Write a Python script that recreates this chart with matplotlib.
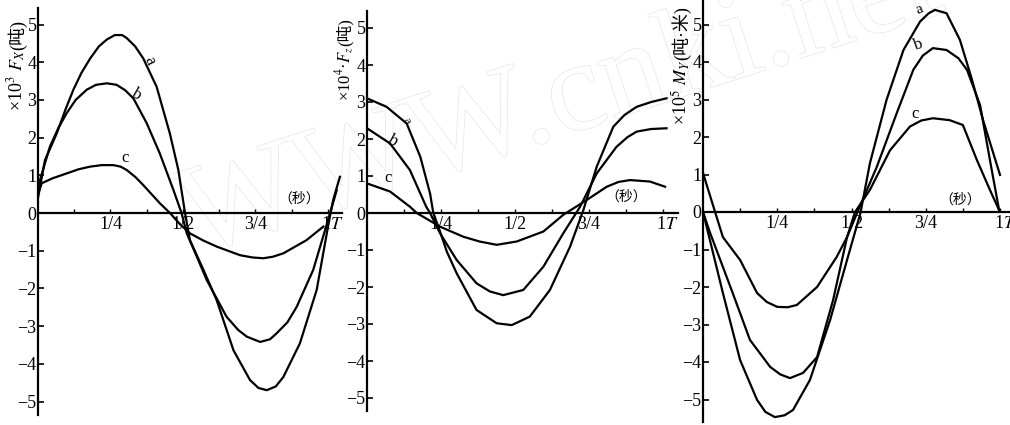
import matplotlib
matplotlib.use("Agg")
import matplotlib.pyplot as plt
import matplotlib.patheffects as pe
from matplotlib.transforms import ScaledTranslation

plt.rcParams['font.family'] = ['Liberation Serif', 'Noto Sans CJK SC']
plt.rcParams['mathtext.fontset'] = 'stix'
plt.rcParams['axes.unicode_minus'] = True

# x tick labels (fraction of period T)
tick_pos = [0.25, 0.5, 0.75, 1.0]
tick_lab = ['1/4', '1/2', '3/4', '1$T$']
minor_pos = [0.125, 0.375, 0.625, 0.875]
y_ticks = [-5, -4, -3, -2, -1, 0, 1, 2, 3, 4, 5]

# panel 1: Fx (x10^3 t)
fx_a_t = [0.0, 0.024, 0.064, 0.095, 0.122, 0.15, 0.18, 0.21, 0.237, 0.265, 0.29, 0.306, 0.335, 0.363,
          0.409, 0.455, 0.484, 0.507, 0.524, 0.57, 0.616, 0.674, 0.731, 0.76, 0.789, 0.82, 0.846,
          0.903, 0.961, 1.0, 1.018, 1.041]
fx_a = [0.4, 1.4, 2.1, 2.75, 3.27, 3.72, 4.1, 4.42, 4.6, 4.72, 4.72, 4.64, 4.42, 4.1,
        3.35, 2.1, 1.14, 0.0, -0.72, -1.5, -2.31, -3.64, -4.43, -4.64, -4.7, -4.6, -4.35,
        -3.46, -2.04, -0.36, 0.35, 0.96]
fx_b_t = [0.0, 0.041, 0.07, 0.099, 0.13, 0.168, 0.2, 0.237, 0.271, 0.3, 0.329, 0.375, 0.42,
          0.467, 0.495, 0.513, 0.55, 0.582, 0.65, 0.69, 0.72, 0.766, 0.8, 0.823, 0.86, 0.892,
          0.949, 0.99, 1.007, 1.03]
fx_b = [0.7, 1.76, 2.25, 2.65, 3.0, 3.27, 3.4, 3.44, 3.4, 3.26, 3.04, 2.38, 1.58,
        0.61, 0.0, -0.54, -1.2, -1.78, -2.75, -3.1, -3.28, -3.42, -3.35, -3.19, -2.9, -2.49,
        -1.51, -0.45, 0.0, 0.6]
fx_c_t = [0.0, 0.013, 0.05, 0.099, 0.14, 0.18, 0.22, 0.26, 0.285, 0.306, 0.335, 0.363, 0.42,
          0.455, 0.49, 0.524, 0.57, 0.616, 0.697, 0.74, 0.777, 0.81, 0.846, 0.926, 0.984]
fx_c = [0.5, 0.79, 0.92, 1.05, 1.16, 1.23, 1.27, 1.27, 1.23, 1.14, 0.96, 0.74, 0.26,
        0.0, -0.3, -0.54, -0.73, -0.89, -1.12, -1.18, -1.2, -1.16, -1.07, -0.72, -0.36]

# panel 2: Fz (x10^4 t)
fz_a_t = [0.0, 0.066, 0.134, 0.18, 0.213, 0.224, 0.241, 0.27, 0.303, 0.37, 0.438, 0.489, 0.55,
          0.618, 0.686, 0.731, 0.776, 0.832, 0.87, 0.911, 0.96, 1.012]
fz_a = [3.1, 2.87, 2.42, 1.52, 0.53, 0.0, -0.37, -1.05, -1.63, -2.62, -2.98, -3.03, -2.8,
        -2.08, -0.91, 0.08, 1.25, 2.33, 2.65, 2.87, 3.0, 3.1]
fz_b_t = [0.0, 0.078, 0.145, 0.2, 0.213, 0.247, 0.303, 0.37, 0.415, 0.46, 0.528, 0.596, 0.663,
          0.72, 0.776, 0.843, 0.88, 0.911, 0.96, 1.012]
fz_b = [2.29, 1.88, 1.16, 0.17, 0.0, -0.55, -1.27, -1.9, -2.12, -2.22, -2.08, -1.45, -0.55,
        0.17, 1.07, 1.79, 2.05, 2.2, 2.27, 2.29]
fz_c_t = [0.0, 0.078, 0.145, 0.168, 0.247, 0.325, 0.38, 0.438, 0.506, 0.596, 0.663, 0.742,
          0.81, 0.85, 0.889, 0.956, 1.007]
fz_c = [0.8, 0.58, 0.17, 0.0, -0.37, -0.64, -0.77, -0.86, -0.77, -0.5, -0.05, 0.35,
        0.71, 0.84, 0.89, 0.85, 0.71]

# panel 3: My (x10^5 t*m)
my_a_t = [0.0, 0.067, 0.125, 0.182, 0.21, 0.242, 0.275, 0.303, 0.36, 0.428, 0.485, 0.53, 0.562,
          0.618, 0.675, 0.731, 0.76, 0.781, 0.82, 0.865, 0.906, 0.943, 1.0]
my_a = [0.0, -2.16, -3.95, -5.01, -5.33, -5.47, -5.42, -5.28, -4.48, -2.88, -1.28, -0.03, 1.3,
        2.99, 4.32, 5.08, 5.3, 5.39, 5.3, 4.59, 3.52, 2.45, 0.99]
my_b_t = [0.0, 0.024, 0.1, 0.158, 0.226, 0.26, 0.293, 0.337, 0.384, 0.438, 0.485, 0.52, 0.585,
          0.652, 0.708, 0.74, 0.774, 0.82, 0.86, 0.889, 0.933, 0.966, 0.997]
my_b = [0.0, -0.56, -2.16, -3.41, -4.13, -4.33, -4.43, -4.29, -3.87, -2.35, -0.67, 0.0, 1.2,
        2.63, 3.79, 4.17, 4.37, 4.32, 4.1, 3.79, 2.85, 1.39, 0.05]
my_c_t = [0.0, 0.067, 0.125, 0.182, 0.215, 0.25, 0.285, 0.316, 0.384, 0.45, 0.485, 0.512, 0.562,
          0.63, 0.697, 0.735, 0.774, 0.83, 0.875, 0.922, 0.966, 0.997]
my_c = [1.04, -0.67, -1.28, -2.16, -2.4, -2.53, -2.54, -2.48, -2.0, -1.2, -0.67, 0.0, 0.59,
        1.65, 2.28, 2.44, 2.5, 2.45, 2.32, 1.39, 0.59, 0.05]

W, H = 1010, 425
fig = plt.figure(figsize=(W / 100, H / 100), dpi=100)
fig.patch.set_facecolor('white')


def make_axes(x0, y0, sx, sy, xmax, ymin, ymax):
    # x0, y0: pixel position of the origin (from top-left); sx: px per T; sy: px per unit
    top = y0 - ymax * sy
    bottom = y0 - ymin * sy
    ax = fig.add_axes([x0 / W, 1 - bottom / H, xmax * sx / W, (bottom - top) / H])
    ax.set_xlim(0, xmax)
    ax.set_ylim(ymin, ymax)
    ax.patch.set_alpha(0)
    for s in ['top', 'right']:
        ax.spines[s].set_visible(False)
    ax.spines['bottom'].set_position(('data', 0))
    ax.spines['left'].set_linewidth(1.6)
    ax.spines['bottom'].set_linewidth(1.6)
    ax.set_yticks(y_ticks)
    ax.set_yticklabels([str(v).replace('-', '\u2212') for v in y_ticks], fontsize=13)
    ax.tick_params(axis='y', direction='in', length=4, width=1.2, pad=1)
    ax.set_xticks(tick_pos)
    ax.set_xticks(minor_pos, minor=True)
    ax.set_xticklabels(tick_lab, fontsize=13)
    ax.tick_params(axis='x', which='both', direction='in', length=3, width=1.0, pad=2)
    last = ax.get_xticklabels()[-1]
    last.set_horizontalalignment('left')
    last.set_transform(last.get_transform() + ScaledTranslation(-0.065, 0, fig.dpi_scale_trans))
    return ax


def side_label(xc, ytop, unit, quantity, size):
    # rotated title: unit in brackets at the top, the math part continues below it
    renderer = fig.canvas.get_renderer()
    t1 = fig.text(xc / W, 1 - ytop / H, unit, rotation=90, ha='center', va='top', fontsize=size)
    bb = t1.get_window_extent(renderer)
    fig.text(xc / W, bb.y0 / H, quantity, rotation=90, ha='center', va='top', fontsize=size)


lw = 1.6
ax1 = make_axes(38, 213, 290, 37.7, 1.05, -5.35, 5.45)
ax1.plot(fx_a_t, fx_a, color='black', lw=lw)
ax1.plot(fx_b_t, fx_b, color='black', lw=lw)
ax1.plot(fx_c_t, fx_c, color='black', lw=lw)
ax1.text(0.385, 4.05, 'a', fontsize=12, rotation=-65, ha='center', va='center')
ax1.text(0.34, 3.15, 'b', fontsize=12, rotation=-30, ha='center', va='center')
ax1.text(0.3, 1.45, 'c', fontsize=12, ha='center', va='center')
ax1.text(0.9, 0.36, '（秒）', fontsize=10, ha='center', va='center')

ax2 = make_axes(367, 213, 296, 37, 1.05, -5.35, 5.45)
ax2.plot(fz_a_t, fz_a, color='black', lw=lw)
ax2.plot(fz_b_t, fz_b, color='black', lw=lw)
ax2.plot(fz_c_t, fz_c, color='black', lw=lw)
ax2.text(0.135, 2.5, 'a', fontsize=9, rotation=-60, ha='center', va='center')
ax2.text(0.085, 1.95, 'b', fontsize=13, style='italic', rotation=-20, ha='center', va='center')
ax2.text(0.07, 0.95, 'c', fontsize=12, ha='center', va='center')
ax2.text(0.877, 0.44, '（秒）', fontsize=10, ha='center', va='center')

ax3 = make_axes(703, 212, 297, 37.5, 1.03, -5.6, 5.65)
ax3.plot(my_a_t, my_a, color='black', lw=lw)
ax3.plot(my_b_t, my_b, color='black', lw=lw)
ax3.plot(my_c_t, my_c, color='black', lw=lw)
ax3.text(0.73, 5.4, 'a', fontsize=11, rotation=20, ha='center', va='center')
ax3.text(0.725, 4.45, 'b', fontsize=12, rotation=20, ha='center', va='center')
ax3.text(0.715, 2.62, 'c', fontsize=12, ha='center', va='center')
ax3.text(0.865, 0.32, '（秒）', fontsize=10, ha='center', va='center')

# axis titles (rotated, at the top left of each y axis)
side_label(17, 20, '(吨)', '×10$^3$ $F_X$', 13)
side_label(345, 18, '(吨)', '×10$^4$·$F_z$', 12)
side_label(681, 6, '(吨·米)', '×10$^5$ $M_Y$', 13)

# faint watermark of the scanned source
fig.text(195 / W, 1 - 255 / H, 'WWW.cnki.net', rotation=18, rotation_mode='anchor',
         ha='left', va='baseline', fontsize=92, color='white', zorder=-5,
         path_effects=[pe.withStroke(linewidth=1.0, foreground='#e6e6e6')])

fig.savefig('out.png', dpi=100)
